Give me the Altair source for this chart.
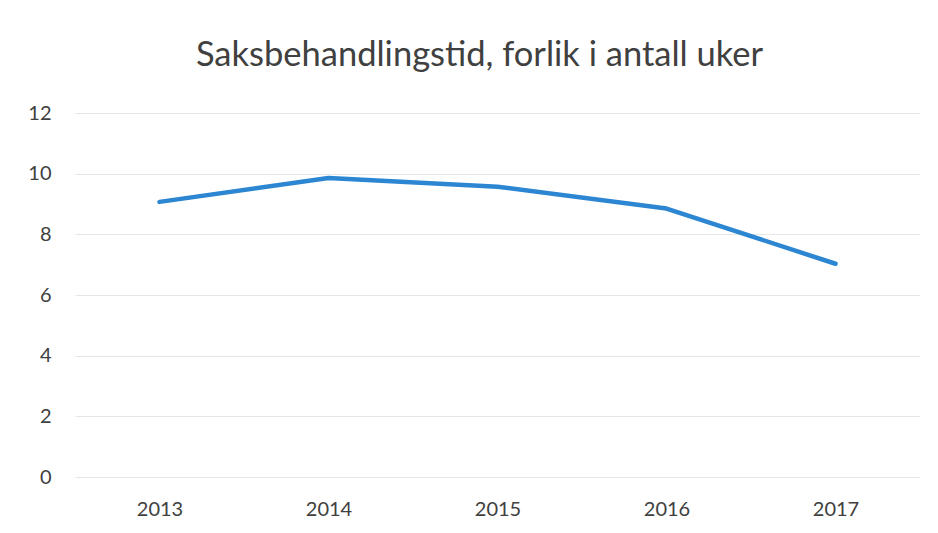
import altair as alt
import pandas as pd

years = ["2013", "2014", "2015", "2016", "2017"]
weeks = [9.07, 9.86, 9.57, 8.85, 7.03]
y_ticks = [0, 2, 4, 6, 8, 10, 12]
title_text = "Saksbehandlingstid, forlik i antall uker"

df = pd.DataFrame({"year": years, "weeks": weeks})

FONT = "Lato"

chart = (
    alt.Chart(df)
    .mark_line(color="#2c86d1", strokeWidth=4.5, strokeCap="round", strokeJoin="round")
    .encode(
        x=alt.X("year:N", sort=years, title=None,
                scale=alt.Scale(paddingOuter=0.5, paddingInner=0),
                axis=alt.Axis(labelAngle=0, domain=False, ticks=False, labelPadding=22,
                              labelFontSize=20, labelColor="#404040", labelFont=FONT,
                              grid=False)),
        y=alt.Y("weeks:Q", title=None,
                scale=alt.Scale(domain=[0, 12], nice=False),
                axis=alt.Axis(values=y_ticks, domain=False, ticks=False, labelPadding=24,
                              labelFontSize=20, labelColor="#404040", labelFont=FONT,
                              gridColor="#e6e6e6", gridWidth=1)),
    )
    .properties(
        width=845,
        height=364,
        padding={"left": 67, "top": 105, "right": 10, "bottom": 48},
        autosize=alt.AutoSizeParams(type="none"),
        background="white",
        title=alt.TitleParams(title_text, anchor="middle", frame="group", dx=-18,
                              fontSize=34.5, font=FONT, fontWeight="normal",
                              color="#404040", offset=30),
    )
    .configure_view(stroke=None)
)

chart.save("out.html", embed_options={"renderer": "svg", "actions": False})
